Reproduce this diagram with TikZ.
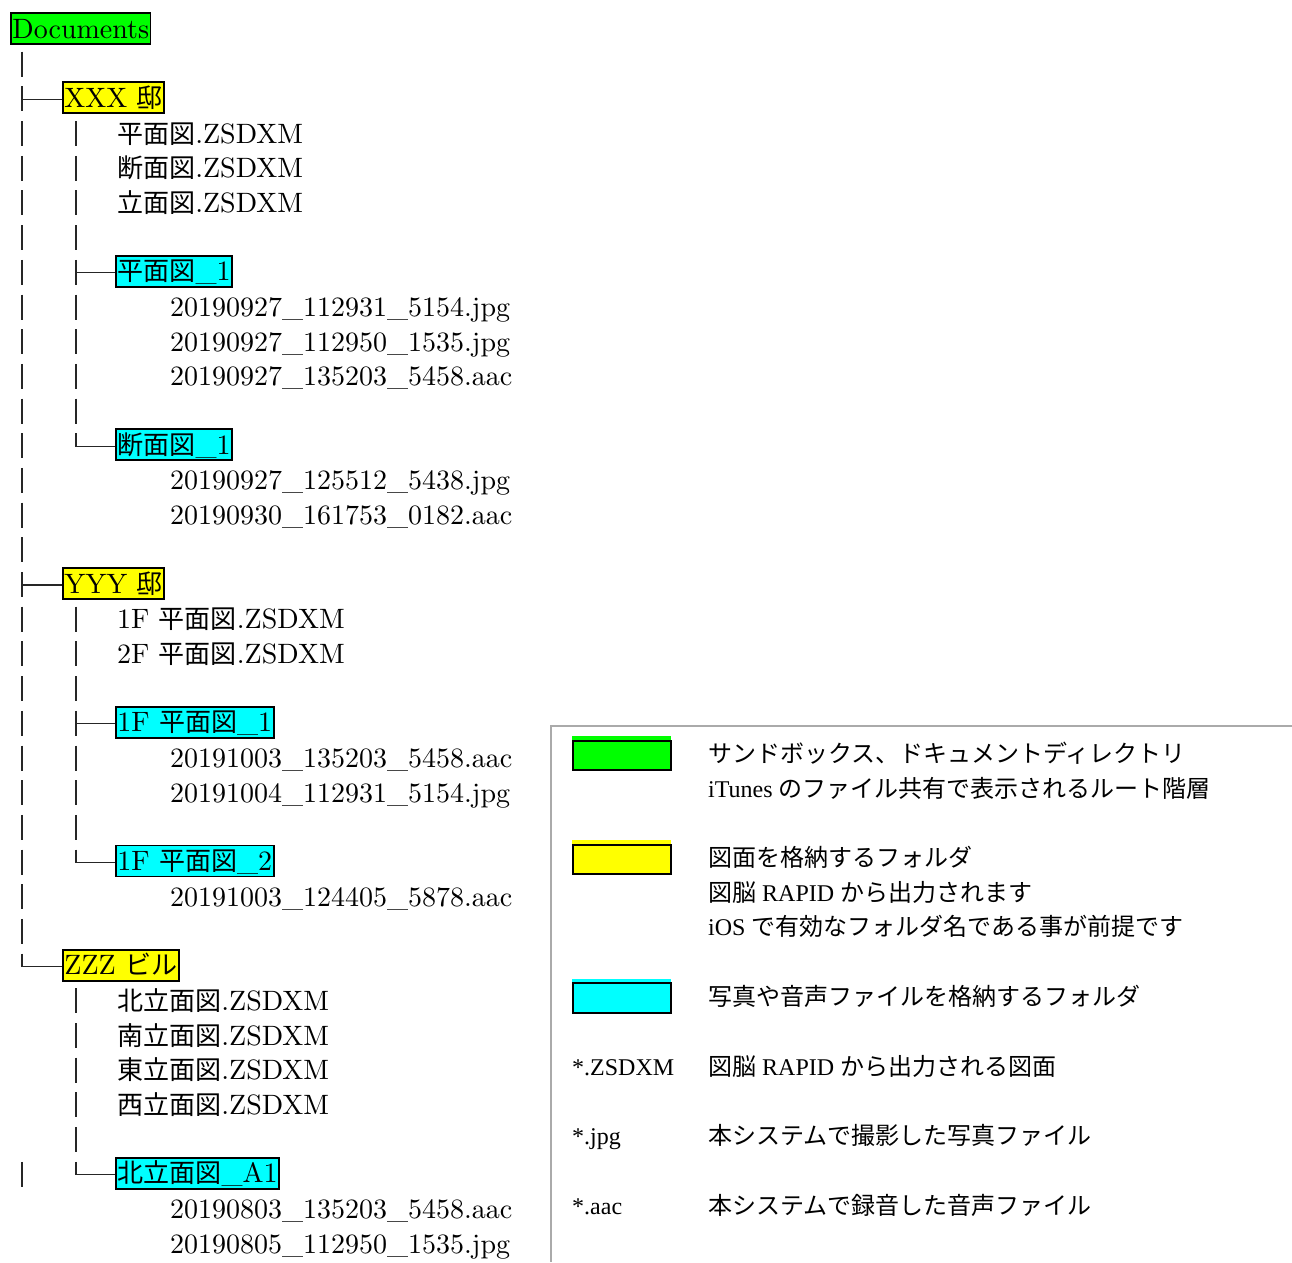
\documentclass[tikz,border=0pt]{standalone}
\usepackage{fontspec}
\setmainfont{lmroman10-regular.otf}
\newfontfamily\jp[Scale=0.93]{Noto Sans CJK JP}
\newfontfamily\ljp{Noto Sans CJK JP}
\newfontfamily\lgd{Liberation Serif}
\newcommand\J[1]{{\jp #1}}
\newcommand\LJ[1]{{\ljp #1}}
\newcommand\treefont{\fontsize{28}{34}\selectfont}
\newcommand\legfont{\lgd\fontsize{24}{30}\selectfont}
\definecolor{fgreen}{HTML}{00FF00}
\definecolor{fyellow}{HTML}{FFFF00}
\definecolor{fcyan}{HTML}{00FFFF}
\definecolor{framegray}{HTML}{AAAAAA}
\def\B#1{39+34.69*#1}
\def\BB#1{38+34.69*#1}
\def\C#1{30+34.69*#1}
\begin{document}
\begin{tikzpicture}[x=1pt,y=-1pt,
  treeline/.style={draw=black!85,line width=1.2pt},
  ftext/.style={font=\treefont,inner sep=0pt,anchor=base west},
  fbox/.style={draw=black,line width=1.8pt,inner xsep=1.5pt,inner ysep=0pt,
     text height=25pt,text depth=6pt,font=\treefont,anchor=base west},
  gbox/.style={fbox,fill=fgreen},
  ybox/.style={fbox,fill=fyellow},
  cbox/.style={fbox,fill=fcyan},
  ltext/.style={font=\legfont,inner sep=0pt,anchor=base west},
  swatch/.style={draw=black,line width=1.5pt}]
\useasboundingbox (0,0) rectangle (1292,1262);
\fill[white] (0,0) rectangle (1292,1262);

% ---- folder boxes ----
\node[gbox] (doc) at (10,{\BB{0}}) {Documents};
\node[ybox] (xxx) at (62,{\BB{2}}) {XXX \J{邸}};
\node[cbox] (xp1) at (115,{\BB{7}}) {\J{平面図}\_1};
\node[cbox] (xd1) at (115,{\BB{12}}) {\J{断面図}\_1};
\node[ybox] (yyy) at (62,{\BB{16}}) {YYY \J{邸}};
\node[cbox] (yp1) at (115,{\BB{20}}) {1F \J{平面図}\_1};
\node[cbox] (yp2) at (115,{\BB{24}}) {1F \J{平面図}\_2};
\node[ybox] (zzz) at (62,{\BB{27}}) {ZZZ \J{ビル}};
\node[cbox] (za1) at (115,{\BB{33}}) {\J{北立面図}\_A1};

% ---- files ----
\node[ftext] (f3) at (117,{\B{3}}) {\J{平面図}.ZSDXM};
\node[ftext] (f4) at (117,{\B{4}}) {\J{断面図}.ZSDXM};
\node[ftext] (f5) at (117,{\B{5}}) {\J{立面図}.ZSDXM};
\node[ftext] (f8) at (170,{\B{8}}) {20190927\_112931\_5154.jpg};
\node[ftext] (f9) at (170,{\B{9}}) {20190927\_112950\_1535.jpg};
\node[ftext] (f10) at (170,{\B{10}}) {20190927\_135203\_5458.aac};
\node[ftext] (f13) at (170,{\B{13}}) {20190927\_125512\_5438.jpg};
\node[ftext] (f14) at (170,{\B{14}}) {20190930\_161753\_0182.aac};
\node[ftext] (f17) at (117,{\B{17}}) {1F \J{平面図}.ZSDXM};
\node[ftext] (f18) at (117,{\B{18}}) {2F \J{平面図}.ZSDXM};
\node[ftext] (f21) at (170,{\B{21}}) {20191003\_135203\_5458.aac};
\node[ftext] (f22) at (170,{\B{22}}) {20191004\_112931\_5154.jpg};
\node[ftext] (f25) at (170,{\B{25}}) {20191003\_124405\_5878.aac};
\node[ftext] (f28) at (117,{\B{28}}) {\J{北立面図}.ZSDXM};
\node[ftext] (f29) at (117,{\B{29}}) {\J{南立面図}.ZSDXM};
\node[ftext] (f30) at (117,{\B{30}}) {\J{東立面図}.ZSDXM};
\node[ftext] (f31) at (117,{\B{31}}) {\J{西立面図}.ZSDXM};
\node[ftext] (f34) at (170,{\B{34}}) {20190803\_135203\_5458.aac};
\node[ftext] (f35) at (170,{\B{35}}) {20190805\_112950\_1535.jpg};

% ---- tree lines: root level ----
\foreach \i in {1,2,3,4,...,15,16,17,18,...,26,33}
  \draw[treeline] (22,{\C{\i}-13}) -- (22,{\C{\i}+12});
\coordinate (jx) at (22,{\C{2}});
\coordinate (jy) at (22,{\C{16}});
\coordinate (jz) at (22,{\C{27}});
\draw[treeline] (jx) -- (jx -| xxx.west);
\draw[treeline] (jy) -- (jy -| yyy.west);
\draw[treeline] (22,{\C{27}-13}) -- (jz) -- (jz -| zzz.west);

% ---- tree lines: second level ----
\foreach \i in {3,4,5,6,7,8,9,10,11,17,18,19,20,21,22,23,28,29,30,31,32}
  \draw[treeline] (76,{\C{\i}-13}) -- (76,{\C{\i}+12});
\coordinate (kp1) at (76,{\C{7}});
\coordinate (kd1) at (76,{\C{12}});
\coordinate (ky1) at (76,{\C{20}});
\coordinate (ky2) at (76,{\C{24}});
\coordinate (ka1) at (76,{\C{33}});
\draw[treeline] (kp1) -- (kp1 -| xp1.west);
\draw[treeline] (76,{\C{12}-13}) -- (kd1) -- (kd1 -| xd1.west);
\draw[treeline] (ky1) -- (ky1 -| yp1.west);
\draw[treeline] (76,{\C{24}-13}) -- (ky2) -- (ky2 -| yp2.west);
\draw[treeline] (76,{\C{33}-13}) -- (ka1) -- (ka1 -| za1.west);

% ---- legend frame ----
\draw[framegray,line width=1.8pt] (1292,726) -- (551,726) -- (551,1262);

% ---- legend swatches ----
\fill[fgreen] (572,736) rectangle (671,770);
\draw[swatch,fill=fgreen] (573,741) rectangle (671,770);
\fill[fyellow] (572,840) rectangle (671,874);
\draw[swatch,fill=fyellow] (573,845) rectangle (671,874);
\fill[fcyan] (572,979) rectangle (671,1013);
\draw[swatch,fill=fcyan] (573,983) rectangle (671,1013);

% ---- legend texts ----
\node[ltext] (l1) at (708,762) {\LJ{サンドボックス、ドキュメントディレクトリ}};
\node[ltext] (l2) at (708,797) {iTunes \LJ{のファイル共有で表示されるルート階層}};
\node[ltext] (l3) at (708,866) {\LJ{図面を格納するフォルダ}};
\node[ltext] (l4) at (708,901) {\LJ{図脳} RAPID \LJ{から出力されます}};
\node[ltext] (l5) at (708,935) {iOS \LJ{で有効なフォルダ名である事が前提です}};
\node[ltext] (l6) at (708,1005) {\LJ{写真や音声ファイルを格納するフォルダ}};
\node[ltext] (k7) at (572,1075) {*.ZSDXM};
\node[ltext] (l7) at (708,1075) {\LJ{図脳} RAPID \LJ{から出力される図面}};
\node[ltext] (k8) at (572,1144) {*.jpg};
\node[ltext] (l8) at (708,1144) {\LJ{本システムで撮影した写真ファイル}};
\node[ltext] (k9) at (572,1214) {*.aac};
\node[ltext] (l9) at (708,1214) {\LJ{本システムで録音した音声ファイル}};
\end{tikzpicture}
\end{document}
